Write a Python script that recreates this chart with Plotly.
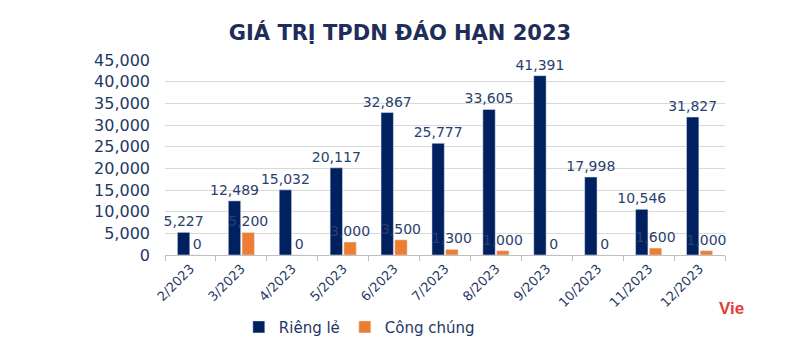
import plotly.graph_objects as go

months = ["2/2023", "3/2023", "4/2023", "5/2023", "6/2023", "7/2023", "8/2023",
          "9/2023", "10/2023", "11/2023", "12/2023"]
rieng_le = [5227, 12489, 15032, 20117, 32867, 25777, 33605, 41391, 17998, 10546, 31827]
cong_chung = [0, 5200, 0, 3000, 3500, 1300, 1000, 0, 0, 1600, 1000]

navy = "#002060"
orange = "#ED7D31"
label_color = "#2A3F6E"
font = "DejaVu Sans"

fig = go.Figure()
fig.add_trace(go.Bar(
    x=months, y=rieng_le, name="Riêng lẻ", marker_color=navy,
    text=[f"{v:,}" for v in rieng_le], textposition="outside", constraintext="none",
    textfont=dict(family=font, size=14, color=label_color), cliponaxis=False,
))
fig.add_trace(go.Bar(
    x=months, y=cong_chung, name="Công chúng", marker_color=orange,
    text=[f"{v:,}" for v in cong_chung], textposition="outside", constraintext="none",
    textfont=dict(family=font, size=14, color=label_color), cliponaxis=False,
))

fig.update_layout(
    width=800, height=340,
    margin=dict(l=165, r=75, t=60, b=85, autoexpand=False),
    paper_bgcolor="white", plot_bgcolor="white",
    barmode="group", bargap=0.46, bargroupgap=0.1,
    title=dict(text="<b>GIÁ TRỊ TPDN ĐÁO HẠN 2023</b>", x=0.5, xanchor="center",
               y=0.905, yanchor="middle",
               font=dict(family=font, size=21, color="#1F2D5A")),
    showlegend=True,
    legend=dict(orientation="h", x=0.347, xanchor="center", y=-0.37, yanchor="middle",
                font=dict(family=font, size=15, color="#1F3864"), itemwidth=30,
                traceorder="normal"),
    uniformtext=dict(mode=False),
)
fig.update_xaxes(
    type="category", tickangle=-45, tickson="boundaries", automargin=False,
    ticks="outside", ticklen=5, tickcolor="#BFBFBF",
    showline=True, linecolor="#BFBFBF", linewidth=1,
    tickfont=dict(family=font, size=13, color="#1F3864"),
    showgrid=False,
)
fig.update_yaxes(
    range=[0, 45000], dtick=5000, tickformat=",", automargin=False,
    showgrid=True, gridcolor="#D9D9D9", gridwidth=1,
    zeroline=False, showline=False,
    tickfont=dict(family=font, size=16, color="#1F3864"),
    ticklabelstandoff=14,
)
fig.add_annotation(text="<b>Vie</b>", xref="paper", yref="paper",
                   x=(731 - 165) / 560, y=(255 - 308) / 195, xanchor="center", yanchor="middle",
                   showarrow=False, font=dict(family="Liberation Sans", size=17, color="#E53935"))

fig.write_html("out.html")
